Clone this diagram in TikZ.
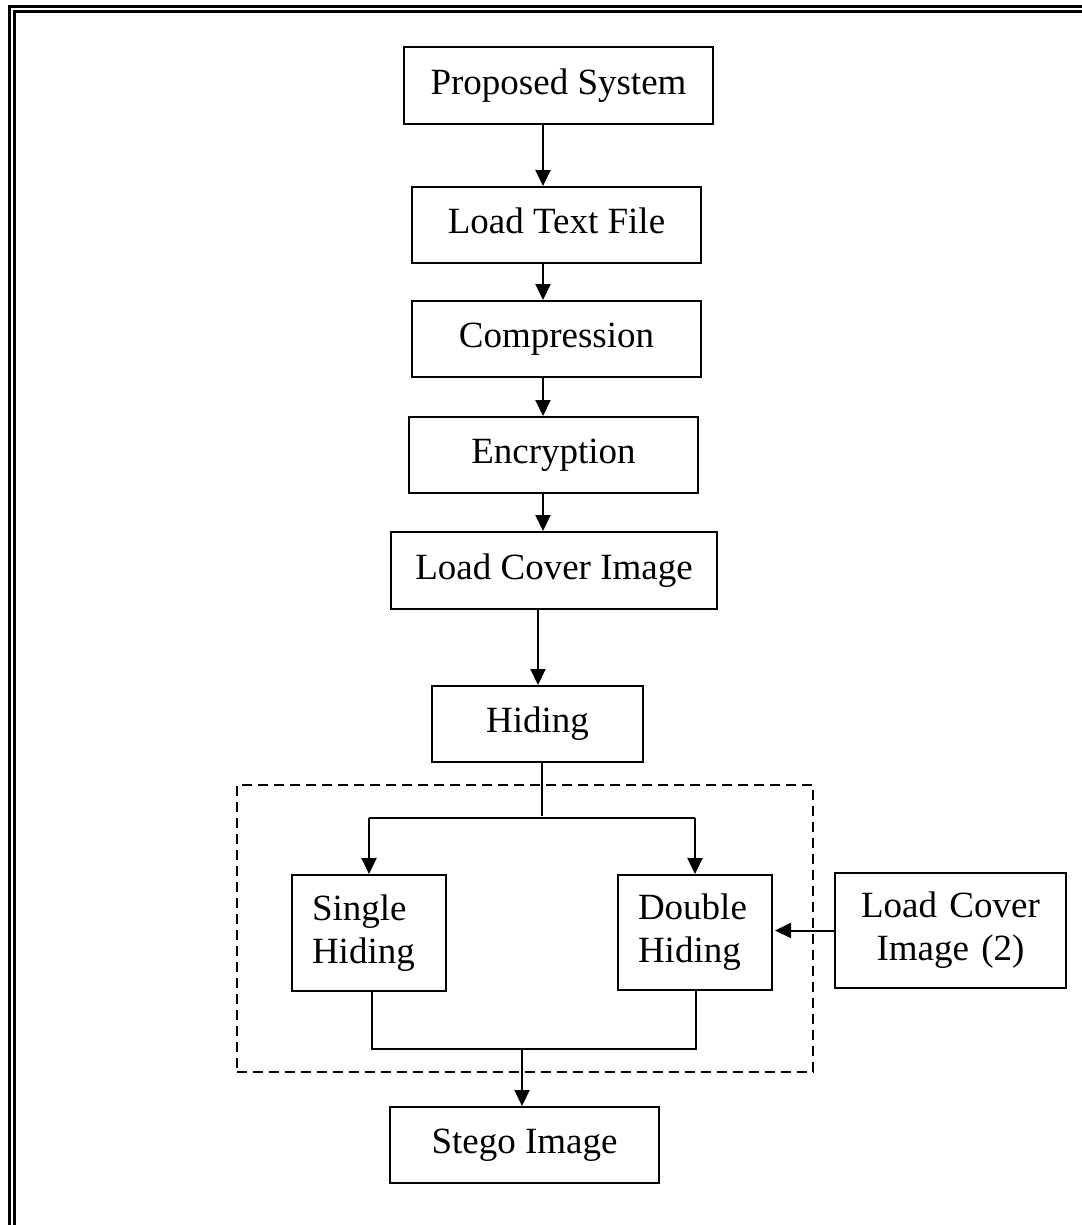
\documentclass[tikz,border=0pt]{standalone}
\usepackage{fontspec}
\setmainfont{Liberation Serif}
\usetikzlibrary{arrows.meta}
\begin{document}
\begin{tikzpicture}[x=1bp,y=-1bp,
  font=\fontsize{37bp}{43bp}\selectfont,
  box/.style={draw, line width=2bp, inner sep=0pt, text height=25bp, text depth=8bp},
  twobox/.style={draw, line width=2bp, inner xsep=20bp, inner ysep=0pt},
  conn/.style={line width=2bp},
  arr/.style={line width=2bp, -{Triangle[length=16bp,width=15bp]}},
  grpbox/.style={draw, dashed, dash pattern=on 10bp off 6bp, line width=2.5bp, inner sep=0pt},
  framel/.style={line width=3bp}
]
\useasboundingbox (0,0) rectangle (1082,1225);
% outer double frame
\draw[framel] (9.5,1226) -- (9.5,6.3) -- (1083,6.3);
\draw[line width=2.6bp] (14.7,1226) -- (14.7,11.6) -- (1083,11.6);

% group box
\node[grpbox, minimum width=576bp, minimum height=287bp] (grp) at (525,928.5) {};

% nodes
\node[box, minimum width=309bp, minimum height=77bp] (ps) at (558.5,85.5) {Proposed System};
\node[box, minimum width=289bp, minimum height=76bp] (ltf) at (556.5,225) {Load Text File};
\node[box, minimum width=289bp, minimum height=76bp] (comp) at (556.5,339) {Compression};
\node[box, minimum width=289bp, minimum height=76bp] (enc) at (553.5,455) {Encryption};
\node[box, minimum width=326bp, minimum height=77bp] (lci) at (554,570.5) {Load Cover Image};
\node[box, minimum width=211bp, minimum height=76bp] (hid) at (537.5,724) {Hiding};
\node[twobox, text width=114bp, align=left, minimum height=116bp] (sh) at (369,933) {Single\\Hiding};
\node[twobox, text width=114bp, align=left, minimum height=115bp] (dh) at (695,932.5) {Double\\Hiding};
\node[draw, line width=2bp, inner sep=0pt, text width=231bp, align=center, minimum height=115bp] (lci2) at (950.5,930.5) {Load Cover\\Image (2)};
\node[box, minimum width=269bp, minimum height=76bp] (stego) at (524.5,1145) {Stego Image};

% helper coordinates
\coordinate (col) at (543,0);
\coordinate (col2) at (538,0);
\coordinate (split) at (542,818);
\coordinate (join) at (522,1049);
\coordinate (jl) at (372,0);
\coordinate (jr) at (696,0);

% main chain
\draw[arr] (ps.south -| col) -- (ltf.north -| col);
\draw[arr] (ltf.south -| col) -- (comp.north -| col);
\draw[arr] (comp.south -| col) -- (enc.north -| col);
\draw[arr] (enc.south -| col) -- (lci.north -| col);
\draw[arr] (lci.south -| col2) -- (hid.north -| col2);

% split
\draw[conn] (hid.south -| split) -- ([yshift=2bp]split);
\draw[conn] (sh.north |- split) -- (dh.north |- split);
\draw[arr] (sh.north |- split) -- (sh.north);
\draw[arr] (dh.north |- split) -- (dh.north);

% join
\draw[conn] (sh.south -| jl) -- (jl |- join) -- (jr |- join) -- (dh.south -| jr);
\draw[arr] (join) -- (stego.north -| join);

% side input
\draw[arr, shorten >=2bp] (lci2.west) -- (lci2.west -| dh.east);
\end{tikzpicture}
\end{document}
